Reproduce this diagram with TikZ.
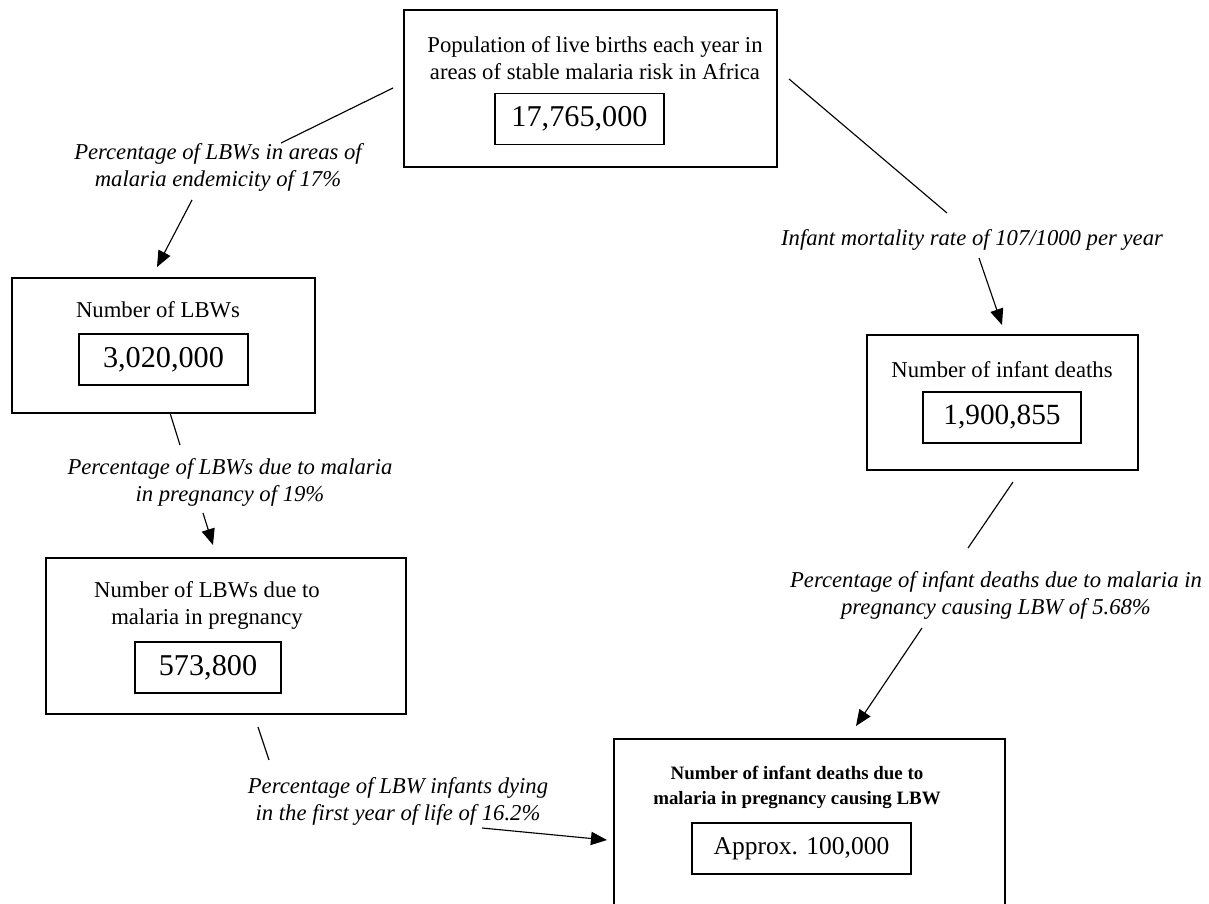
\documentclass[tikz,border=0pt]{standalone}
\usepackage{fontspec}
\setmainfont{Liberation Serif}
\usetikzlibrary{arrows.meta}

\begin{document}
\begin{tikzpicture}[x=0.529pt,y=-0.529pt,
	block/.style={rectangle,draw=black,line width=0.8pt,inner sep=0pt},
	count/.style={rectangle,draw=black,line width=0.8pt,inner sep=0pt,minimum height=27pt,font=\fontsize{16}{18}\selectfont},
	title/.style={align=center,inner sep=0pt,font=\fontsize{12}{14.3}\selectfont},
	rate/.style={align=center,inner sep=0pt,font=\fontsize{12}{14.3}\selectfont\itshape},
	link/.style={draw,line width=0.6pt},
	line/.style={link,-{Triangle[length=8.5pt,width=7pt]}}]
\useasboundingbox (0,0) rectangle (1209,903);
\node[block,minimum width=197.3pt,minimum height=83.1pt] (pop) at (590.5,88.5) {};
\node[title] (poptext) at (595,58.5) {Population of live births each year in\\areas of stable malaria risk in Africa};
\node[count,minimum width=89.4pt] (popnum) at (579.5,119) {17,765,000};
\node[block,minimum width=160.3pt,minimum height=71.4pt] (lbw) at (163.5,345.5) {};
\node[title] (lbwtext) at (158,310) {Number of LBWs};
\node[count,minimum width=89.4pt] (lbwnum) at (163.5,359.5) {3,020,000};
\node[block,minimum width=190.4pt,minimum height=82.5pt] (lbwmal) at (226,636) {};
\node[title] (lbwmaltext) at (207,605) {Number of LBWs due to\\malaria in pregnancy};
\node[count,minimum width=77.2pt] (lbwmalnum) at (208,667.5) {573,800};
\node[block,minimum width=143.4pt,minimum height=71.4pt] (infdeath) at (1002.5,402.5) {};
\node[title] (infdeathtext) at (1002,370) {Number of infant deaths};
\node[count,minimum width=83.6pt,font=\fontsize{15.5}{18}\selectfont] (infdeathnum) at (1002,417.5) {1,900,855};
\node[block,minimum width=206.8pt,minimum height=96.3pt] (result) at (809.5,830) {};
\node[title,font=\fontsize{10}{13.2}\selectfont\bfseries] (resulttext) at (797,787) {Number of infant deaths due to\\malaria in pregnancy causing LBW};
\node[count,minimum width=115.9pt,font=\fontsize{13.5}{16}\selectfont] (resultnum) at (801.5,848.5) {Approx. 100,000};
\node[rate] (lbwrate) at (218,167.5) {Percentage of LBWs in areas of\\malaria endemicity of 17\%};
\node[rate] (malrate) at (230,482) {Percentage of LBWs due to malaria\\in pregnancy of 19\%};
\node[rate] (mortrate) at (972,240) {Infant mortality rate of 107/1000 per year};
\node[rate] (causerate) at (996,595) {Percentage of infant deaths due to malaria in\\pregnancy causing LBW of 5.68\%};
\node[rate] (dyingrate) at (398,801.5) {Percentage of LBW infants dying\\in the first year of life of 16.2\%};
\path[link] ([shift={(-197.5,-0.5)}]pop.center) -- ([shift={(63,-24.5)}]lbwrate.center);
\path[line] ([shift={(-26,32.5)}]lbwrate.center) -- ([shift={(-6.5,-78.5)}]lbw.center);
\path[link] ([shift={(6.5,67.5)}]lbw.center) -- ([shift={(-50,-37)}]malrate.center);
\path[line] ([shift={(-27,31)}]malrate.center) -- ([shift={(-13,-91)}]lbwmal.center);
\path[link] ([shift={(198.5,-9.5)}]pop.center) -- ([shift={(-25,-27)}]mortrate.center);
\path[line] ([shift={(7,18)}]mortrate.center) -- ([shift={(-0.5,-77.5)}]infdeath.center);
\path[link] ([shift={(10.5,79.5)}]infdeath.center) -- ([shift={(-28,-47)}]causerate.center);
\path[line] ([shift={(-74,33)}]causerate.center) -- ([shift={(46.5,-104)}]result.center);
\path[link] ([shift={(32,91)}]lbwmal.center) -- ([shift={(-129,-41.5)}]dyingrate.center);
\path[line] ([shift={(84,26.5)}]dyingrate.center) -- ([shift={(-202.5,10)}]result.center);
\end{tikzpicture}
\end{document}
